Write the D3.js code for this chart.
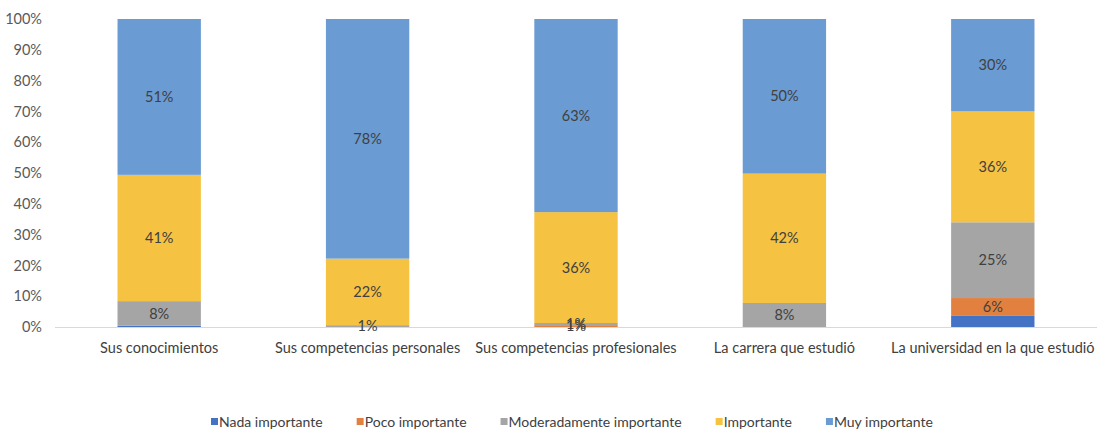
<!DOCTYPE html>
<html>
<head>
<meta charset="utf-8">
<script src="https://cdn.jsdelivr.net/npm/d3@7"></script>
<style>
  body { margin: 0; background: #fff; }
  svg text { font-family: Lato, "Open Sans", sans-serif; }
</style>
</head>
<body>
<div class="chart_box"></div>
<script>
// categories and series (percent of answers)
var categories = ["Sus conocimientos", "Sus competencias personales", "Sus competencias profesionales",
  "La carrera que estudió", "La universidad en la que estudió"];
var seriesNames = ["Nada importante", "Poco importante", "Moderadamente importante", "Importante", "Muy importante"];
var nada      = [0.4, 0,   0,    0,   3.6];
var poco      = [0,   0,   0.6,  0,   5.8];
var moderado  = [8.0, 0.6, 0.7,  7.8, 24.6];
var importante= [41,  21.6, 36,  42,  36];
var muy       = [50.6, 77.8, 62.7, 50.2, 30];
var yTicks = [0, 10, 20, 30, 40, 50, 60, 70, 80, 90, 100];

var colors = ["#4472C4", "#E2803F", "#A5A5A5", "#F5C242", "#6A9BD3"];
var showLabel = [false, true, true, true, true];

var width = 1097, height = 429;
var plotLeft = 55, plotRight = 1097, plotTop = 19, plotBottom = 327;
var fontSize = "14.5px";

var svg = d3.select(".chart_box").append("svg")
  .attr("width", width).attr("height", height);

var rows = categories.map(function(c, i) {
  return { cat: c, s0: nada[i], s1: poco[i], s2: moderado[i], s3: importante[i], s4: muy[i] };
});
var keys = ["s0", "s1", "s2", "s3", "s4"];
var stacked = d3.stack().keys(keys)(rows);

var x = d3.scaleBand().domain(categories).range([plotLeft, plotRight])
  .paddingInner(0.6).paddingOuter(0.3);
var y = d3.scaleLinear().domain([0, 100]).range([plotBottom, plotTop]);

// y axis labels
var yAxis = d3.axisLeft(y).tickValues(yTicks).tickSize(0).tickPadding(13)
  .tickFormat(function(d) { return d + "%"; });
var gy = svg.append("g").attr("transform", "translate(" + plotLeft + ",0)").call(yAxis);
gy.select(".domain").remove();
gy.selectAll("text").attr("fill", "#595959").attr("font-size", fontSize)
  .attr("font-family", "Lato, sans-serif");

// bars
var groups = svg.selectAll(".serie").data(stacked).enter().append("g")
  .attr("fill", function(d, i) { return colors[i]; });

groups.selectAll("rect").data(function(d) { return d; }).enter().append("rect")
  .attr("x", function(d) { return x(d.data.cat); })
  .attr("width", x.bandwidth())
  .attr("y", function(d) { return y(d[1]); })
  .attr("height", function(d) { return y(d[0]) - y(d[1]); });

// baseline
svg.append("line").attr("x1", plotLeft).attr("x2", plotRight)
  .attr("y1", plotBottom + 0.5).attr("y2", plotBottom + 0.5)
  .attr("stroke", "#D9D9D9").attr("stroke-width", 1);

// data labels
stacked.forEach(function(s, si) {
  if (!showLabel[si]) return;
  s.forEach(function(d) {
    var v = d[1] - d[0];
    if (v <= 0) return;
    svg.append("text")
      .attr("x", x(d.data.cat) + x.bandwidth() / 2)
      .attr("y", y((d[0] + d[1]) / 2))
      .attr("dy", "0.35em")
      .attr("text-anchor", "middle")
      .attr("fill", "#404040")
      .attr("font-size", fontSize)
      .text(Math.round(v) + "%");
  });
});

// x axis labels
var xAxis = d3.axisBottom(x).tickSize(0).tickPadding(16);
var gx = svg.append("g").attr("transform", "translate(0," + plotBottom + ")").call(xAxis);
gx.select(".domain").remove();
gx.selectAll("text").attr("fill", "#404040").attr("font-size", fontSize)
  .attr("font-family", "Lato, sans-serif");

// legend
var legend = svg.append("g").attr("transform", "translate(0,422)");
var lx = 211;
seriesNames.forEach(function(name, i) {
  legend.append("rect").attr("x", lx).attr("y", -4).attr("width", 7).attr("height", 7)
    .attr("fill", colors[i]);
  var t = legend.append("text").attr("x", lx + 8).attr("y", 0).attr("dy", "0.35em")
    .attr("fill", "#404040").attr("font-size", "14px").text(name);
  lx += 8 + t.node().getComputedTextLength() + 34;
});
</script>
</body>
</html>
